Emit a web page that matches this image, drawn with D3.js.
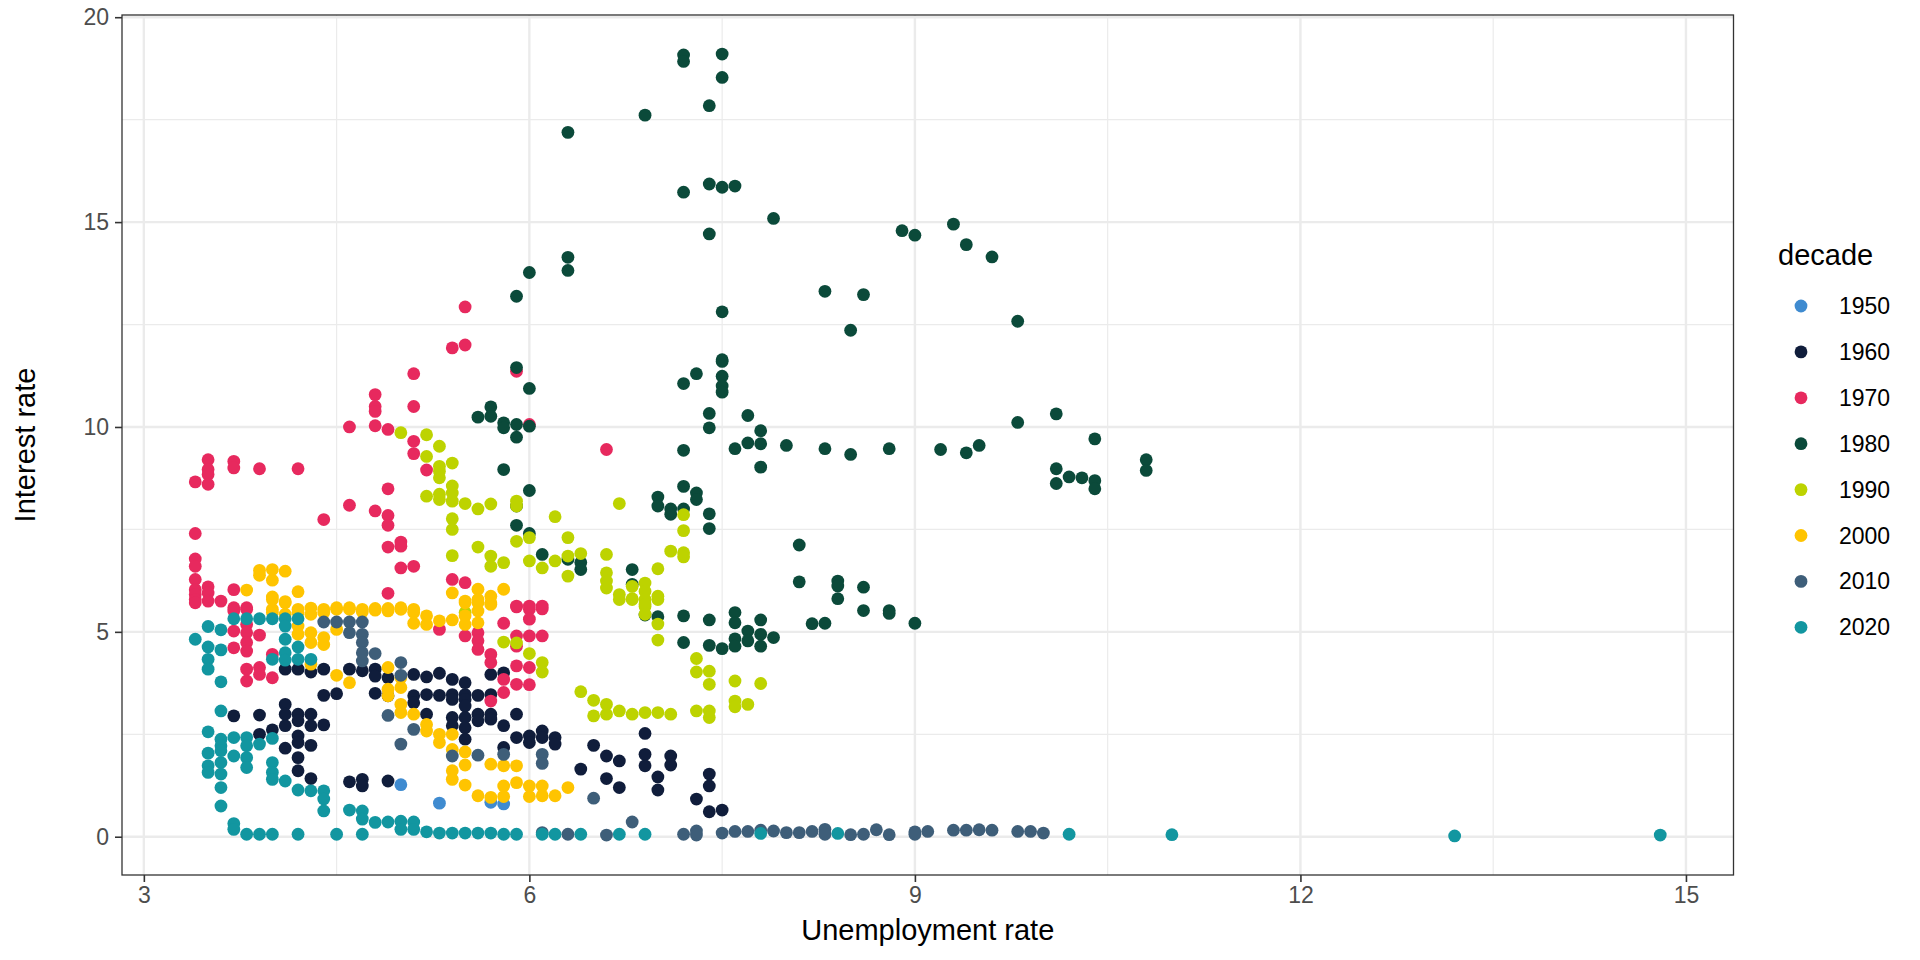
<!DOCTYPE html>
<html>
<head>
<meta charset="utf-8">
<script src="https://cdn.jsdelivr.net/npm/d3@7"></script>
<style>
  body { margin: 0; background: #fff; }
  svg { font-family: "Liberation Sans", Arial, sans-serif; }
</style>
</head>
<body>
<svg></svg>
<script>
var width = 1920,
    height = 960;

// decades and their colours
var decades = ["1950", "1960", "1970", "1980", "1990", "2000", "2010", "2020"];
var palette = ["#3F8BD0", "#101D3B", "#E7295E", "#0B4A3A", "#BDD300", "#FFC400", "#3E5E79", "#1296A0"];

var xTicks = [3, 6, 9, 12, 15];
var yTicks = [0, 5, 10, 15, 20];

// [unemployment rate, interest rate]
var d1950 = [[5.0,1.27],[5.3,0.82],[5.7,0.84],[5.8,0.80]];

var d1960 = [[4.1,4.09],[4.2,4.09],[4.3,4.02],[4.4,4.09],[4.6,4.09],[4.7,4.05],[4.8,4.09],[4.8,3.92],[4.9,3.88],
  [5.1,3.96],[5.1,3.44],[5.1,3.27],[5.2,3.90],[5.2,3.47],[4.4,3.45],[4.5,3.49],[4.8,3.50],[4.9,3.44],[5.2,2.99],
  [3.7,2.95],[3.9,2.97],[4.1,3.23],[4.1,2.99],[4.1,2.71],[4.2,2.99],[4.2,2.83],[4.3,2.99],[4.3,2.71],[4.4,2.73],
  [4.0,2.61],[3.9,2.50],[4.2,2.46],[4.2,2.30],[4.1,2.16],[4.3,2.23],[4.2,1.93],[4.2,1.61],[4.3,1.42],[4.6,1.34],
  [4.7,1.40],[4.7,1.24],[4.9,1.36],[5.3,3.99],[5.4,3.84],[5.5,3.76],[5.4,3.47],[5.4,3.35],[5.3,3.45],[5.5,3.47],
  [5.5,3.35],[5.5,3.19],[5.6,3.45],[5.7,3.47],[5.7,3.96],[5.8,4.00],[5.6,2.99],[5.6,2.83],[5.7,2.99],[5.7,2.87],
  [5.4,2.91],[5.4,2.71],[5.5,2.91],[5.5,2.66],[5.5,2.38],[5.8,2.71],[5.9,2.99],[5.8,2.18],[5.9,2.42],[6.0,2.46],
  [6.0,2.30],[6.1,2.58],[6.1,2.42],[6.2,2.42],[6.2,2.26],[6.4,1.65],[6.5,2.23],[6.6,1.97],[6.7,1.85],[6.7,1.20],
  [6.6,1.42],[6.9,2.52],[6.9,2.01],[6.9,1.73],[7.0,1.46],[7.0,1.14],[7.1,1.97],[7.1,1.75],[7.3,0.92],[7.4,1.53],
  [7.4,1.24],[7.4,0.61],[7.5,0.65]];

var d1970 = [[5.1,11.3],[5.1,10.5],[4.8,10.79],[4.8,10.5],[4.8,10.38],[4.6,10.0],[4.8,10.03],[4.9,9.94],[5.1,9.65],
  [5.1,9.35],[3.5,9.2],[3.5,8.96],[3.5,8.84],[3.5,8.6],[3.4,8.66],[3.7,9.16],[3.7,9.0],[3.9,8.98],[4.2,8.98],
  [4.9,8.49],[4.6,8.09],[4.4,7.74],[4.8,7.95],[4.9,7.84],[4.9,7.60],[3.4,7.40],[4.9,7.07],[5.0,7.19],[5.0,7.09],
  [5.0,6.56],[5.1,6.6],[3.4,6.78],[3.4,6.6],[3.4,6.28],[3.4,6.03],[3.4,5.91],[3.4,5.79],[3.4,5.71],[3.5,6.1],
  [3.5,5.95],[3.5,5.75],[3.6,5.75],[3.7,6.03],[4.9,5.94],[3.7,5.59],[3.8,5.59],[3.7,5.51],[3.7,5.02],[3.7,4.61],
  [3.8,5.55],[3.8,5.18],[3.8,4.98],[3.8,4.74],[3.8,4.53],[3.9,4.92],[3.8,4.09],[3.8,3.80],[3.9,4.13],[3.9,3.96],
  [4.0,4.45],[4.0,3.88],[5.3,5.06],[5.5,4.90],[5.6,4.98],[5.6,4.78],[5.6,4.57],[5.8,5.21],[5.9,5.61],[6.0,5.55],
  [6.0,5.31],[6.1,5.56],[5.7,4.45],[5.7,4.25],[5.8,3.84],[5.8,3.52],[5.9,4.90],[5.9,4.65],[5.9,4.17],[5.9,3.72],
  [6.0,4.90],[6.0,4.13],[6.0,3.71],[6.1,4.90],[5.7,3.31],[6.6,9.45],[5.9,11.36],[5.4,6.28],[5.5,6.20],[5.9,5.63],
  [6.0,5.63],[6.1,5.63],[6.0,10.06],[5.5,12.93],[5.4,11.93],[5.5,12.0],[5.2,8.95]];

var d1980 = [[7.2,19.08],[7.2,18.92],[7.5,19.1],[7.5,18.53],[7.4,17.84],[6.9,17.61],[6.3,17.19],[7.4,15.93],
  [7.5,15.85],[7.6,15.88],[7.2,15.73],[7.9,15.09],[7.4,14.71],[8.9,14.79],[9.0,14.68],[9.3,14.95],[9.4,14.45],
  [9.6,14.15],[6.3,14.14],[6.3,13.82],[6.0,13.77],[5.9,13.19],[8.3,13.31],[8.6,13.23],[7.5,12.81],[8.5,12.36],
  [9.8,12.58],[7.5,11.64],[5.9,11.45],[6.0,10.94],[5.6,10.24],[5.7,10.49],[5.7,10.26],[5.8,10.1],[5.8,9.98],
  [5.9,10.06],[5.9,9.75],[6.0,10.02],[5.8,8.96],[6.0,8.45],[5.9,8.07],[5.9,7.6],[6.0,7.4],[6.1,6.89],[6.3,6.77],
  [6.4,6.69],[6.4,6.52],[6.8,6.52],[6.8,6.16],[7.2,11.06],[7.3,11.30],[7.5,11.6],[7.5,11.24],[7.5,11.0],
  [7.5,10.85],[7.4,10.33],[7.4,9.98],[7.2,9.43],[7.2,8.55],[7.0,8.29],[7.0,8.07],[7.1,8.0],[7.1,7.87],[7.2,8.0],
  [7.3,8.39],[7.3,8.23],[7.4,7.88],[7.4,7.52],[7.7,10.28],[7.8,9.91],[7.6,9.47],[7.7,9.61],[7.8,9.59],[7.8,9.02],
  [8.0,9.55],[8.3,9.47],[8.5,9.33],[8.8,9.47],[9.2,9.45],[9.4,9.37],[9.5,9.55],[9.8,10.11],[8.1,7.12],[8.1,6.22],
  [8.4,6.24],[8.4,6.12],[8.6,6.09],[8.4,5.81],[7.6,5.47],[7.6,5.22],[7.8,5.29],[7.6,4.83],[7.6,4.65],[7.7,5.02],
  [7.7,4.78],[7.8,4.94],[7.8,4.65],[7.9,4.86],[8.2,5.2],[8.3,5.21],[8.6,5.52],[8.8,5.52],[8.8,5.45],[9.0,5.21],
  [7.0,5.37],[7.2,5.39],[7.4,5.29],[7.2,4.74],[7.4,4.67],[7.5,4.59],[6.9,5.41],[10.1,10.32],[10.4,9.71],
  [10.1,8.98],[10.1,8.62],[10.2,8.78],[10.3,8.76],[10.4,8.69],[10.4,8.49],[10.8,9.2],[10.8,8.94]];

var d1990 = [[5.2,9.81],[5.3,9.53],[5.3,9.04],[5.3,8.92],[5.3,8.76],[5.4,9.12],[5.2,9.28],[5.2,8.31],[5.3,8.36],
  [5.3,8.23],[5.4,8.56],[5.4,8.39],[5.4,8.19],[5.5,8.13],[5.6,8.0],[5.7,8.12],[5.9,8.19],[5.9,8.07],[5.4,7.76],
  [5.4,7.50],[6.2,7.81],[6.7,8.13],[5.9,7.21],[6.0,7.3],[6.3,7.3],[5.6,7.07],[5.4,6.86],[5.7,6.85],[5.7,6.60],
  [5.8,6.69],[6.0,6.73],[6.1,6.56],[6.2,6.73],[6.3,6.85],[6.4,6.91],[6.3,6.36],[6.6,6.89],[6.6,6.44],[6.6,6.24],
  [6.6,6.07],[6.7,5.91],[6.8,6.11],[6.8,5.81],[6.9,6.19],[6.9,5.99],[6.9,5.79],[6.9,5.62],[7.0,6.54],[7.0,5.87],
  [7.1,6.97],[7.2,7.86],[7.2,7.47],[7.2,6.93],[7.2,6.83],[5.0,9.86],[6.7,5.79],[6.8,5.79],[7.0,5.79],[6.9,5.67],
  [6.9,5.43],[7.0,5.19],[7.0,4.80],[5.8,4.75],[5.9,4.73],[6.0,4.47],[6.1,4.25],[6.1,4.02],[6.4,3.54],[6.5,3.33],
  [6.5,2.95],[6.6,3.23],[6.6,2.99],[6.7,3.07],[6.8,2.99],[6.9,3.03],[7.0,3.03],[7.1,2.99],[7.3,4.35],[7.3,4.02],
  [7.4,4.04],[7.4,3.72],[7.3,3.07],[7.4,3.07],[7.4,2.91],[7.6,3.80],[7.8,3.74],[7.6,3.31],[7.6,3.17],[7.7,3.23],
  [5.5,5.47]];

var d2000 = [[3.9,6.5],[3.9,6.38],[4.0,6.52],[4.0,6.26],[4.1,6.48],[3.8,6.02],[4.0,5.85],[4.1,5.74],[4.2,5.98],
  [4.2,5.55],[4.3,5.58],[4.4,5.55],[4.5,5.59],[4.6,5.59],[4.7,5.55],[4.8,5.57],[4.9,5.57],[5.0,5.59],[5.1,5.55],
  [4.0,5.55],[4.0,5.79],[4.1,5.71],[4.0,5.47],[4.1,5.43],[4.2,5.47],[4.2,5.14],[4.2,4.94],[4.3,5.43],[4.3,4.98],
  [4.3,4.74],[4.3,4.21],[4.4,5.47],[4.4,4.86],[4.4,4.69],[4.5,5.55],[4.5,5.06],[4.6,5.55],[4.7,5.49],[4.8,5.53],
  [4.9,5.51],[5.0,5.55],[5.1,5.47],[5.1,5.21],[5.2,5.39],[5.2,5.18],[4.5,3.94],[4.6,3.76],[4.9,4.13],[4.9,3.60],
  [4.9,3.44],[5.0,3.88],[5.0,3.64],[5.0,3.23],[5.0,3.03],[5.1,2.99],[5.2,2.74],[5.2,2.58],[5.3,5.27],[5.4,5.29],
  [5.5,5.39],[5.5,5.18],[5.6,5.51],[5.6,5.22],[5.7,5.71],[5.5,5.71],[5.6,5.71],[5.3,2.50],[5.3,2.30],[5.4,2.50],
  [5.4,2.13],[5.4,1.61],[5.4,1.40],[5.5,2.07],[5.5,1.75],[5.5,1.26],[5.6,1.0],[5.7,1.77],[5.7,0.96],[5.8,1.73],
  [5.8,1.24],[5.8,0.98],[5.9,1.73],[5.9,1.32],[6.0,1.24],[6.0,0.98],[6.1,1.24],[6.1,1.0],[6.2,1.0],[6.3,1.2],
  [5.4,5.95],[5.5,5.75],[5.6,6.04],[5.6,5.79],[5.7,5.87],[5.7,5.67],[5.8,6.04]];

var d2010 = [[4.4,5.24],[4.5,5.24],[4.6,5.24],[4.6,4.98],[4.7,5.24],[4.7,4.94],[4.7,4.74],[4.7,4.49],[4.7,4.29],
  [4.8,4.47],[5.0,4.25],[5.0,3.94],[4.9,2.96],[5.1,2.62],[5.0,2.26],[5.4,1.97],[5.6,1.99],[5.8,2.01],[6.1,2.01],
  [6.1,1.79],[6.5,0.94],[6.8,0.36],[6.3,0.06],[6.6,0.04],[7.2,0.06],[7.3,0.14],[7.3,0.04],[7.5,0.09],[6.1,0.10],
  [7.6,0.13],[7.7,0.13],[7.8,0.16],[7.9,0.14],[8.0,0.10],[8.1,0.10],[8.2,0.13],[8.3,0.18],[8.3,0.06],[8.5,0.05],
  [8.6,0.06],[8.7,0.17],[8.8,0.05],[9.0,0.12],[9.0,0.06],[9.1,0.13],[9.3,0.16],[9.4,0.16],[9.5,0.17],[9.6,0.16],
  [9.8,0.13],[9.9,0.13],[10.0,0.09]];

var d2020 = [[3.7,5.32],[3.8,5.32],[3.9,5.32],[4.0,5.32],[4.1,5.32],[4.2,5.32],[3.5,5.13],[3.6,5.05],[3.4,4.82],
  [3.5,4.63],[3.6,4.56],[3.5,4.33],[3.5,4.09],[4.1,5.14],[4.1,4.82],[4.1,4.49],[4.1,4.31],[4.2,4.63],[4.2,4.33],
  [4.0,4.33],[4.3,4.33],[3.6,3.78],[3.6,3.07],[3.5,2.56],[3.6,2.38],[3.6,2.22],[3.6,2.10],[3.6,1.81],[3.6,1.53],
  [3.7,2.42],[3.7,1.97],[3.8,2.42],[3.8,2.22],[3.8,1.93],[3.8,1.69],[3.9,2.26],[4.0,2.40],[3.5,2.04],[3.5,1.73],
  [3.5,1.57],[3.6,1.20],[3.6,0.75],[4.0,1.81],[4.0,1.57],[4.0,1.40],[4.1,1.36],[4.2,1.14],[4.3,1.12],[4.4,1.12],
  [4.4,0.92],[4.4,0.63],[3.7,0.32],[3.7,0.18],[3.8,0.06],[3.9,0.06],[4.0,0.06],[4.2,0.06],[4.5,0.06],[4.6,0.65],
  [4.7,0.63],[4.7,0.43],[4.8,0.35],[4.9,0.36],[5.0,0.38],[5.0,0.18],[5.1,0.36],[5.1,0.18],[4.7,0.06],[5.2,0.12],
  [5.3,0.09],[5.4,0.09],[5.5,0.09],[5.6,0.09],[5.7,0.09],[5.8,0.06],[5.9,0.06],[6.1,0.06],[6.2,0.06],[6.4,0.06],
  [6.7,0.06],[6.9,0.06],[7.8,0.08],[8.4,0.08],[10.2,0.06],[11.0,0.05],[13.2,0.02],[14.8,0.04]];

var series = [d1950, d1960, d1970, d1980, d1990, d2000, d2010, d2020];

var panel = { left: 122, right: 1733.5, top: 15, bottom: 875 };

var svg = d3.select("svg")
    .attr("width", width)
    .attr("height", height);

var points = [];
series.forEach(function (s, i) {
    s.forEach(function (p) { points.push({ decade: decades[i], x: p[0], y: p[1] }); });
});

// ggplot style 5% expansion
function expand(ext) {
    var pad = (ext[1] - ext[0]) * 0.05;
    return [ext[0] - pad, ext[1] + pad];
}

var x = d3.scaleLinear()
    .domain(expand(d3.extent(points, function (d) { return d.x; })))
    .range([panel.left, panel.right]);

var y = d3.scaleLinear()
    .domain(expand(d3.extent(points, function (d) { return d.y; })))
    .range([panel.bottom, panel.top]);

var color = d3.scaleOrdinal().domain(decades).range(palette);

var g = svg.append("g");

// grid
var xMinor = xTicks.slice(0, -1).map(function (t) { return t + 1.5; });
var yMinor = yTicks.slice(0, -1).map(function (t) { return t + 2.5; });

g.selectAll(".xminor").data(xMinor).enter().append("line")
    .attr("x1", x).attr("x2", x)
    .attr("y1", panel.top).attr("y2", panel.bottom)
    .attr("stroke", "#EBEBEB").attr("stroke-width", 1.2);
g.selectAll(".yminor").data(yMinor).enter().append("line")
    .attr("y1", y).attr("y2", y)
    .attr("x1", panel.left).attr("x2", panel.right)
    .attr("stroke", "#EBEBEB").attr("stroke-width", 1.2);
g.selectAll(".xmajor").data(xTicks).enter().append("line")
    .attr("x1", x).attr("x2", x)
    .attr("y1", panel.top).attr("y2", panel.bottom)
    .attr("stroke", "#EBEBEB").attr("stroke-width", 2.4);
g.selectAll(".ymajor").data(yTicks).enter().append("line")
    .attr("y1", y).attr("y2", y)
    .attr("x1", panel.left).attr("x2", panel.right)
    .attr("stroke", "#EBEBEB").attr("stroke-width", 2.4);

// points
g.append("g").selectAll("circle")
    .data(points)
    .enter()
    .append("circle")
    .attr("cx", function (d) { return x(d.x); })
    .attr("cy", function (d) { return y(d.y); })
    .attr("r", 6.4)
    .attr("fill", function (d) { return color(d.decade); });

// panel border
g.append("rect")
    .attr("x", panel.left).attr("y", panel.top)
    .attr("width", panel.right - panel.left)
    .attr("height", panel.bottom - panel.top)
    .attr("fill", "none")
    .attr("stroke", "#333333")
    .attr("stroke-width", 1.3);

// axes
var xAxis = svg.append("g")
    .attr("transform", "translate(0," + panel.bottom + ")")
    .call(d3.axisBottom(x).tickValues(xTicks).tickSize(7).tickPadding(5));
var yAxis = svg.append("g")
    .attr("transform", "translate(" + panel.left + ",0)")
    .call(d3.axisLeft(y).tickValues(yTicks).tickSize(7).tickPadding(6));

[xAxis, yAxis].forEach(function (a) {
    a.select(".domain").remove();
    a.selectAll(".tick line").attr("stroke", "#333333").attr("stroke-width", 1.6);
    a.selectAll(".tick text")
        .attr("fill", "#4D4D4D")
        .style("font-size", "23px")
        .style("font-family", "'Liberation Sans', Arial, sans-serif");
});

svg.append("text")
    .attr("x", (panel.left + panel.right) / 2)
    .attr("y", 940)
    .attr("text-anchor", "middle")
    .style("font-size", "29px")
    .text("Unemployment rate");

svg.append("text")
    .attr("transform", "translate(35," + (panel.top + panel.bottom) / 2 + ") rotate(-90)")
    .attr("text-anchor", "middle")
    .style("font-size", "29px")
    .text("Interest rate");

// legend
var legend = svg.append("g");
legend.append("text")
    .attr("x", 1778)
    .attr("y", 265)
    .style("font-size", "29px")
    .text("decade");

var item = legend.selectAll(".item")
    .data(decades)
    .enter()
    .append("g")
    .attr("transform", function (d, i) { return "translate(0," + (306 + i * 45.9) + ")"; });

item.append("circle")
    .attr("cx", 1801)
    .attr("r", 6.4)
    .attr("fill", function (d) { return color(d); });

item.append("text")
    .attr("x", 1839)
    .attr("dy", "0.35em")
    .style("font-size", "23px")
    .text(function (d) { return d; });
</script>
</body>
</html>
